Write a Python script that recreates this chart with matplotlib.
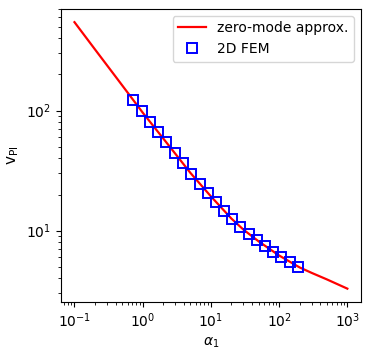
import numpy as np
import matplotlib
matplotlib.use('Agg')
import matplotlib.pyplot as plt

# zero-mode approximation
alpha_line = [0.1, 0.2, 0.4, 0.7, 1, 2, 3, 5, 10, 20, 30, 50, 100, 200, 300, 500, 1000]
v_line = [545, 323, 192, 126, 96.2, 58.6, 43.8, 30.3, 19.3, 12.6, 10.2, 8.15, 6.21, 4.94, 4.45, 3.93, 3.29]

# 2D FEM points
alpha_fem = [0.730, 0.967, 1.27, 1.68, 2.23, 2.96, 3.87, 5.15, 6.82, 9.03, 11.9,
             15.5, 20.4, 27.1, 35.8, 47.0, 61.6, 81.6, 108, 144, 190]
v_fem = [121.8, 98.7, 80.5, 65.9, 54.4, 44.1, 36.4, 29.7, 24.6, 20.6, 17.2,
         14.5, 12.4, 10.7, 9.39, 8.37, 7.46, 6.68, 6.04, 5.48, 5.01]

fig = plt.figure(figsize=(3.71, 3.54), dpi=100)
ax = fig.add_subplot(111)
fig.subplots_adjust(left=0.164, right=0.973, top=0.975, bottom=0.147)

ax.loglog(alpha_line, v_line, color='red', lw=1.6, label='zero-mode approx.')
ax.loglog(alpha_fem, v_fem, 's', mfc='none', mec='blue', ms=6.5, mew=1.4, label='2D FEM')

ax.set_xlabel(r'$\alpha_1$')
ax.set_ylabel(r'v$_\mathrm{PI}$', fontsize=11)
ax.legend(loc='upper right')

fig.savefig('out.png', dpi=100)
